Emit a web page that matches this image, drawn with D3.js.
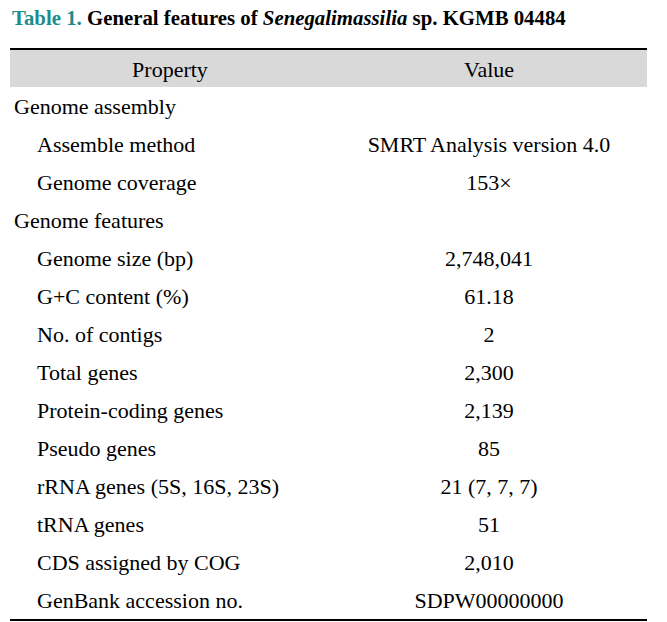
<!DOCTYPE html>
<html><head><meta charset="utf-8">
<script src="https://cdn.jsdelivr.net/npm/d3@7"></script>
<style>body{margin:0;background:#fff}</style>
</head><body>
<script>
const titleLabel = "Table 1.";
const titleText = "General features of ";
const titleItalic = "Senegalimassilia";
const titleRest = " sp. KGMB 04484";
const headers = ["Property", "Value"];
const properties = ["Genome assembly","Assemble method","Genome coverage","Genome features","Genome size (bp)","G+C content (%)","No. of contigs","Total genes","Protein-coding genes","Pseudo genes","rRNA genes (5S, 16S, 23S)","tRNA genes","CDS assigned by COG","GenBank accession no."];
const values = ["","SMRT Analysis version 4.0","153×","","2,748,041","61.18","2","2,300","2,139","85","21 (7, 7, 7)","51","2,010","SDPW00000000"];
const levels = [0,1,1,0,1,1,1,1,1,1,1,1,1,1];

const W = 667, H = 622;
const svg = d3.select("body").append("svg").attr("width", W).attr("height", H);
const font = "'Liberation Serif','Times New Roman',serif";
const left = 10, right = 647;
const fs = 22;

const title = svg.append("text").attr("x", 0).attr("y", 0)
  .attr("font-family", font).attr("font-size", 22).attr("font-weight", "bold");
title.append("tspan").attr("fill", "#1e8c8c").text(titleLabel + " ");
title.append("tspan").attr("fill", "#000").text(titleText);
title.append("tspan").attr("fill", "#000").attr("font-style", "italic").text(titleItalic);
title.append("tspan").attr("fill", "#000").text(titleRest);
const tw = title.node().getComputedTextLength();
title.attr("transform", `translate(12,25) scale(${554/tw},1)`);

// header
svg.append("rect").attr("x", left).attr("y", 50).attr("width", right-left).attr("height", 37).attr("fill", "#d9d9d9");
svg.append("line").attr("x1", left).attr("x2", right).attr("y1", 49).attr("y2", 49).attr("stroke", "#000").attr("stroke-width", 2);
svg.append("line").attr("x1", left).attr("x2", right).attr("y1", 620).attr("y2", 620).attr("stroke", "#000").attr("stroke-width", 2);

const colX = [170, 489];
svg.selectAll("text.hdr").data(headers).join("text").attr("class","hdr")
  .attr("x", (d,i)=>colX[i]).attr("y", 77).attr("text-anchor","middle")
  .attr("font-family", font).attr("font-size", fs).attr("fill","#000").text(d=>d);

const y = d3.scaleBand().domain(d3.range(properties.length)).range([88, 88 + 38*properties.length]);
const rows = svg.selectAll("g.row").data(properties).join("g").attr("class","row")
  .attr("transform", (d,i)=>`translate(0,${y(i)})`);
rows.append("text").attr("x", (d,i)=> levels[i] ? 37 : 14).attr("y", 26)
  .attr("font-family", font).attr("font-size", fs).attr("fill","#000").text(d=>d);
rows.append("text").attr("x", colX[1]).attr("y", 26).attr("text-anchor","middle")
  .attr("font-family", font).attr("font-size", fs).attr("fill","#000").text((d,i)=>values[i]);
</script>
</body></html>
